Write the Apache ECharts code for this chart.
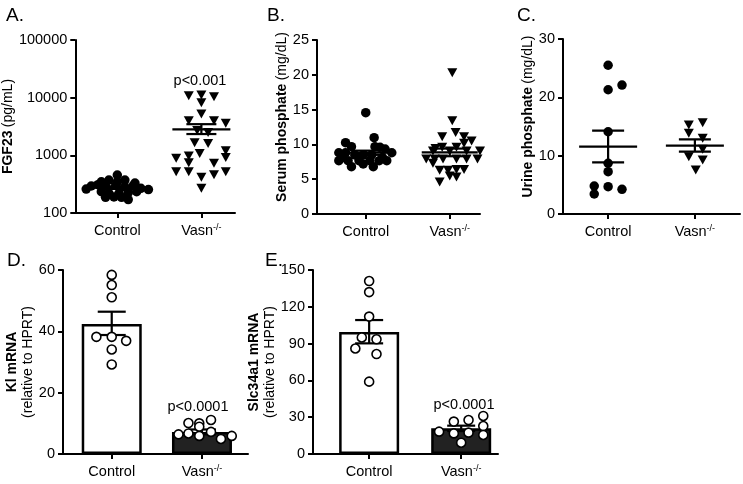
<!DOCTYPE html>
<html><head><meta charset="utf-8">
<script src="https://cdn.jsdelivr.net/npm/echarts@6/dist/echarts.min.js"></script>
<style>html,body{margin:0;padding:0;background:#fff}#c{width:743px;height:484px}</style>
</head><body><div id="c"></div>
<script>
// ---------- data ----------
const groups = ['Control', 'Vasn-/-'];

// A. FGF23 (pg/mL), log scale
const aCtrl    = [456, 348, 373, 348, 373, 330, 294, 310, 294, 300, 285, 300, 268, 234, 219, 219, 225, 234, 187, 190, 187, 171, 260, 255];
const aCtrlJit = [0, -0.19, -0.10, 0, 0.09, 0.21, -0.31, -0.23, -0.14, -0.02, 0.09, 0.19, 0.28, -0.19, -0.10, 0.02, 0.13, 0.23, -0.14, -0.04, 0.05, 0.13, -0.37, 0.37];
const aVasn    = [10800, 11100, 10400, 8200, 5200, 3980, 3980, 3590, 2700, 2500, 1650, 1610, 1080, 1200, 920, 890, 970, 745, 727, 520, 520, 460, 520, 416, 268];
const aVasnJit = [-0.15, 0, 0.15, 0, 0, -0.15, 0.15, 0.29, -0.05, 0.08, -0.08, 0.08, -0.02, 0.29, 0.29, -0.30, -0.15, -0.15, 0.15, -0.30, -0.15, 0.15, 0.29, 0, 0];
const aStats   = [[1, 275, 262, 290], [2, 2830, 2340, 3470]]; // [group, mean, lower SEM, upper SEM]

// B. Serum phosphate (mg/dL)
const bCtrl    = [14.55, 10.25, 9.67, 10.97, 8.8, 8.8, 9.67, 9.58, 9.34, 8.8, 7.66, 7.66, 7.66, 7.66, 7.66, 7.66, 6.8, 7.2, 6.8, 8.48, 8.48, 8.48, 8.1, 8.1];
const bCtrlJit = [0, -0.24, -0.17, 0.10, -0.32, -0.24, 0.11, 0.17, 0.23, 0.31, -0.32, -0.21, -0.08, 0.05, 0.16, 0.25, -0.17, -0.03, 0.09, -0.13, -0.03, 0.07, -0.28, 0.20];
const bVasn    = [20.3, 13.4, 11.7, 11.1, 11.1, 10.15, 10.5, 9.4, 9.6, 9.6, 9.05, 9.05, 9.05, 9.05, 7.9, 7.9, 7.9, 7.9, 7.9, 7.9, 7.3, 6.3, 6.3, 6.4, 6.4, 5.45, 5.3, 4.6];
const bVasnJit = [0.03, 0.03, 0.07, -0.09, 0.17, 0.17, 0.26, -0.17, -0.09, 0.08, -0.20, 0, 0.20, 0.36, -0.28, -0.18, -0.08, 0.08, 0.20, 0.33, -0.20, -0.12, -0.02, 0.08, 0.17, 0, 0.08, -0.12];
const bStats   = [[1, 8.8, 8.5, 9.1], [2, 8.85, 8.3, 9.4]];

// C. Urine phosphate (mg/dL)
const cCtrl    = [25.5, 21.3, 22.1, 14.1, 8.7, 7.25, 4.8, 4.68, 4.23, 3.43];
const cCtrlJit = [0, 0, 0.16, 0, 0, 0, -0.16, 0, 0.16, -0.16];
const cVasn    = [15.26, 15.66, 13.83, 12.97, 11.1, 9.83, 9.26, 7.54];
const cVasnJit = [-0.07, 0.09, -0.07, 0.09, 0.09, -0.07, 0.09, 0.01];
const cStats   = [[1, 11.54, 8.86, 14.3], [2, 11.71, 10.7, 12.8]];

// D. Kl mRNA (relative to HPRT)
const dCtrl    = [58.4, 55.1, 51.1, 38.2, 38.2, 36.9, 34.1, 29.2];
const dCtrlJit = [0, 0, 0, -0.17, 0, 0.16, 0, 0];
const dVasn    = [10.1, 10.0, 8.9, 11.1, 6.4, 6.7, 5.9, 7.2, 4.9, 5.9];
const dVasnJit = [-0.15, -0.03, -0.03, 0.10, -0.26, -0.15, -0.03, 0.10, 0.21, 0.33];
const dMeans   = [42.4, 7.2];
const dStats   = [[1, 42.4, 38.8, 46.4], [2, 7.2, 6.4, 8.0]];

// E. Slc34a1 mRNA (relative to HPRT)
const eCtrl    = [141, 132, 112, 95, 93.5, 86, 81.5, 59];
const eCtrlJit = [0, 0, 0, -0.08, 0.08, -0.15, 0.08, 0];
const eVasn    = [26.4, 27.7, 31, 22.8, 15.5, 18.2, 16.8, 17.4, 9.2];
const eVasnJit = [-0.08, 0.08, 0.24, 0.24, 0.24, -0.24, -0.08, 0.08, 0];
const eMeans   = [99.5, 20.9];
const eStats   = [[1, 99.5, 90.2, 109.2], [2, 20.9, 18.7, 23.1]];

const panelLetters = ['A.', 'B.', 'C.', 'D.', 'E.'];
const pTexts = ['p<0.001', 'p<0.0001', 'p<0.0001'];

// ---------- chart ----------
const FONT = 'Liberation Sans, Arial, Helvetica, sans-serif';
const chart = echarts.init(document.getElementById('c'), null, {renderer: 'canvas'});

function pts(vals, jit, g) { return vals.map((v, i) => [g + jit[i], v]); }

const grids = [
  {left: 68, top: 40, width: 167, height: 173},
  {left: 317, top: 40, width: 163, height: 174},
  {left: 563, top: 39, width: 177, height: 175},
  {left: 63, top: 270, width: 185, height: 184},
  {left: 313, top: 270, width: 185, height: 184}
];
const xRanges = [[0.5, 2.4], [0.42, 2.36], [0.48, 2.52], [0.46, 2.51], [0.39, 2.40]];

const labelRich = {
  n: {fontSize: 14.5, fontFamily: FONT, color: '#000', lineHeight: 16},
  s: {fontSize: 9, fontFamily: FONT, color: '#000', verticalAlign: 'top', lineHeight: 9}
};

const xAxes = grids.map((g, i) => ({
  gridIndex: i, type: 'value', min: xRanges[i][0], max: xRanges[i][1],
  axisLine: {show: true, onZero: false, lineStyle: {color: '#000', width: 2}},
  axisTick: {show: true, customValues: [1, 2], length: 5, lineStyle: {color: '#000', width: 2}},
  axisLabel: {
    customValues: [1, 2], margin: 10,
    formatter: v => Math.round(v) === 1 ? '{n|' + groups[0] + '}' : '{n|Vasn}{s|-/-}',
    rich: labelRich
  },
  splitLine: {show: false}
}));

const nameRich = {
  b: {fontSize: 14, fontWeight: 'bold', fontFamily: FONT, color: '#000', lineHeight: 16},
  n: {fontSize: 14, fontFamily: FONT, color: '#000', lineHeight: 16}
};

function yAx(i, o, pad) {
  return Object.assign({
    gridIndex: i, type: 'value',
    axisLine: {show: true, onZero: false, lineStyle: {color: '#000', width: 2}},
    axisTick: {show: true, length: 5, lineStyle: {color: '#000', width: 2}},
    axisLabel: {color: '#000', fontSize: 14.5, fontFamily: FONT, margin: 8},
    splitLine: {show: false},
    nameLocation: 'middle', nameRotate: 90,
    nameTextStyle: {rich: nameRich, padding: pad || 0}
  }, o);
}

const yAxes = [
  yAx(0, {type: 'log', logBase: 10, min: 100, max: 100000, name: '{b|FGF23} {n|(pg/mL)}', nameGap: 45,
          axisLabel: {color: '#000', fontSize: 14.5, fontFamily: FONT, margin: 8, formatter: v => String(Math.round(v))}}),
  yAx(1, {min: 0, max: 25, interval: 5, name: '{b|Serum phosphate} {n|(mg/dL)}', nameGap: 24}, [0, 0, 0, 20]),
  yAx(2, {min: 0, max: 30, interval: 10, name: '{b|Urine phosphate} {n|(mg/dL)}', nameGap: 23}, [0, 0, 0, 20]),
  yAx(3, {min: 0, max: 60, interval: 20, name: '{b|Kl mRNA}\n{n|(relative to HPRT)}', nameGap: 26}),
  yAx(4, {min: 0, max: 150, interval: 30, name: '{b|Slc34a1 mRNA}\n{n|(relative to HPRT)}', nameGap: 26})
];

function errSeries(i, data, meanHalf, capHalf, z) {
  return {
    type: 'custom', xAxisIndex: i, yAxisIndex: i, z: z, silent: true,
    encode: {x: 0, y: [1, 2, 3]},
    data: data,
    renderItem: function (params, api) {
      const x = api.value(0);
      const pm = api.coord([x, api.value(1)]);
      const pl = api.coord([x, api.value(2)]);
      const ph = api.coord([x, api.value(3)]);
      const st = {stroke: '#000', lineWidth: 2.2};
      const ch = [
        {type: 'line', shape: {x1: pl[0], y1: pl[1], x2: ph[0], y2: ph[1]}, style: st},
        {type: 'line', shape: {x1: pl[0] - capHalf, y1: pl[1], x2: pl[0] + capHalf, y2: pl[1]}, style: st},
        {type: 'line', shape: {x1: ph[0] - capHalf, y1: ph[1], x2: ph[0] + capHalf, y2: ph[1]}, style: st}
      ];
      if (meanHalf) ch.push({type: 'line', shape: {x1: pm[0] - meanHalf, y1: pm[1], x2: pm[0] + meanHalf, y2: pm[1]}, style: st});
      return {type: 'group', children: ch};
    }
  };
}

const dotCircle = {type: 'scatter', symbol: 'circle', symbolSize: 9.5, itemStyle: {color: '#000', opacity: 1}, z: 2, silent: true};
const dotTri = {type: 'scatter', symbol: 'triangle', symbolRotate: 180, symbolSize: [10, 9], itemStyle: {color: '#000', opacity: 1}, z: 2, silent: true};
const dotOpen = {type: 'scatter', symbol: 'circle', symbolSize: 9, itemStyle: {color: '#fff', borderColor: '#000', borderWidth: 1.6, opacity: 1}, z: 4, silent: true};

function barSeries(i, means) {
  return {
    type: 'bar', xAxisIndex: i, yAxisIndex: i, barWidth: 60, z: 1, silent: true,
    data: [
      {value: [1, means[0]], itemStyle: {color: '#fff', borderColor: '#000', borderWidth: 2.5}},
      {value: [2, means[1]], itemStyle: {color: '#222', borderColor: '#000', borderWidth: 2.5}}
    ]
  };
}

const series = [
  Object.assign({}, dotCircle, {xAxisIndex: 0, yAxisIndex: 0, data: pts(aCtrl, aCtrlJit, 1)}),
  Object.assign({}, dotTri, {xAxisIndex: 0, yAxisIndex: 0, data: pts(aVasn, aVasnJit, 2)}),
  errSeries(0, aStats, 29, 15, 5),
  Object.assign({}, dotCircle, {xAxisIndex: 1, yAxisIndex: 1, data: pts(bCtrl, bCtrlJit, 1)}),
  Object.assign({}, dotTri, {xAxisIndex: 1, yAxisIndex: 1, data: pts(bVasn, bVasnJit, 2)}),
  errSeries(1, bStats, 28, 15, 5),
  Object.assign({}, dotCircle, {xAxisIndex: 2, yAxisIndex: 2, data: pts(cCtrl, cCtrlJit, 1)}),
  Object.assign({}, dotTri, {xAxisIndex: 2, yAxisIndex: 2, data: pts(cVasn, cVasnJit, 2)}),
  errSeries(2, cStats, 29, 16, 5),
  barSeries(3, dMeans),
  errSeries(3, dStats, 0, 14, 3),
  Object.assign({}, dotOpen, {xAxisIndex: 3, yAxisIndex: 3, data: pts(dCtrl, dCtrlJit, 1)}),
  Object.assign({}, dotOpen, {xAxisIndex: 3, yAxisIndex: 3, data: pts(dVasn, dVasnJit, 2)}),
  barSeries(4, eMeans),
  errSeries(4, eStats, 0, 14, 3),
  Object.assign({}, dotOpen, {xAxisIndex: 4, yAxisIndex: 4, data: pts(eCtrl, eCtrlJit, 1)}),
  Object.assign({}, dotOpen, {xAxisIndex: 4, yAxisIndex: 4, data: pts(eVasn, eVasnJit, 2)})
];

const letterPos = [[6, 17], [267, 17], [517, 17], [7, 262], [265, 262]];
const pPos = [[200, 81], [198, 407], [464, 405]];
const graphic = [];
panelLetters.forEach((t, i) => graphic.push({
  type: 'text', left: letterPos[i][0], top: letterPos[i][1] - 11,
  style: {text: t, font: '19px ' + FONT, fill: '#000'}
}));
pTexts.forEach((t, i) => graphic.push({
  type: 'text', x: pPos[i][0], y: pPos[i][1],
  style: {text: t, font: '14.5px ' + FONT, fill: '#000', align: 'center', verticalAlign: 'middle'}
}));

chart.setOption({
  animation: false,
  backgroundColor: '#fff',
  grid: grids,
  xAxis: xAxes,
  yAxis: yAxes,
  series: series,
  graphic: graphic
});
</script>
</body></html>
